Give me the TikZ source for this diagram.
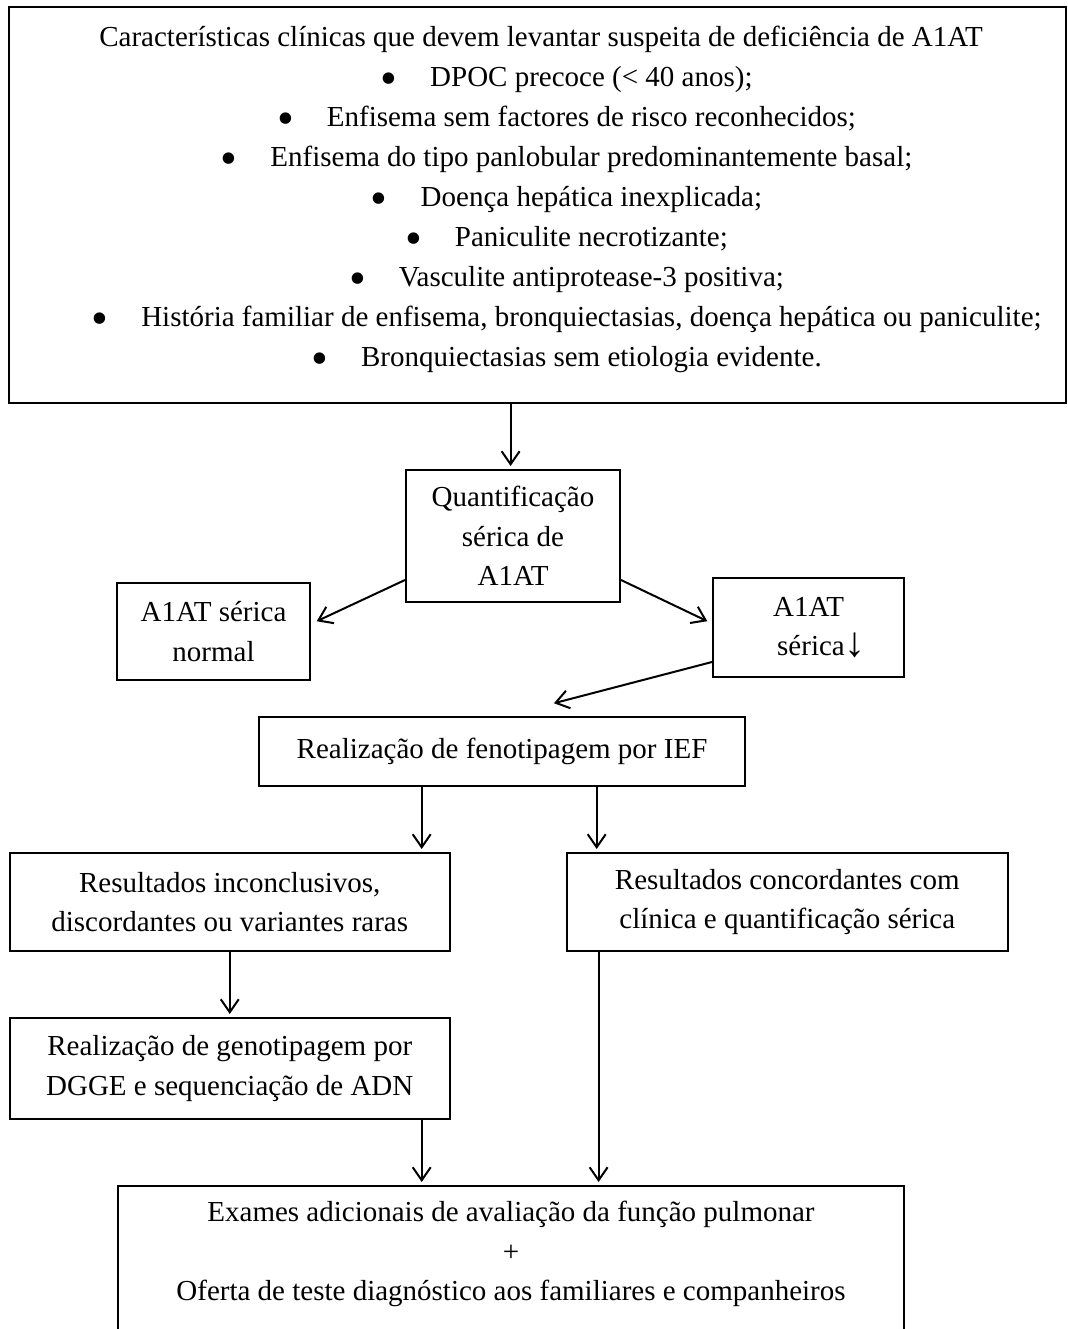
\documentclass[tikz,border=0pt]{standalone}
\usepackage{fontspec}
\setmainfont{Liberation Serif}
\usetikzlibrary{arrows.meta}
\newcommand{\mybul}{\hspace*{51pt}{\fontsize{48pt}{0pt}\selectfont\raisebox{-8pt}{•}}\hspace{33pt}}
\tikzset{
  box/.style={draw, line width=2pt, rectangle, inner sep=0pt, align=center,
    font=\fontsize{29pt}{39.5pt}\selectfont},
  txt/.style={inner sep=0pt, align=center, font=\fontsize{29pt}{39.5pt}\selectfont},
  arr/.style={line width=2pt, -{Straight Barb[length=13pt,width=18pt,line width=2pt]}, shorten >=3pt}
}
\begin{document}
\begin{tikzpicture}[x=1pt,y=-1pt]
\useasboundingbox (0,0) rectangle (1067,1329);
\clip (0,0) rectangle (1067,1329);
% top box
\node[box, minimum width=1057pt, minimum height=396pt] (top) at (537.5,205) {};
\node[txt, font=\fontsize{29pt}{40pt}\selectfont] (toptext) at (541,200.5) {%
Características clínicas que devem levantar suspeita de deficiência de A1AT\\
\mybul DPOC precoce (< 40 anos);\\
\mybul Enfisema sem factores de risco reconhecidos;\\
\mybul Enfisema do tipo panlobular predominantemente basal;\\
\mybul Doença hepática inexplicada;\\
\mybul Paniculite necrotizante;\\
\mybul Vasculite antiprotease-3 positiva;\\
\mybul História familiar de enfisema, bronquiectasias, doença hepática ou paniculite;\\
\mybul Bronquiectasias sem etiologia evidente.};
% middle boxes
\node[box, minimum width=214pt, minimum height=132pt] (quant) at (513,536) {Quantificação\\sérica de\\A1AT};
\node[box, minimum width=193pt, minimum height=97pt] (normal) at (213.5,631.5) {A1AT sérica\\normal};
\node[box, minimum width=191pt, minimum height=99pt] (low) at (808.5,627.5) {A1AT\\\hspace*{26pt}sérica{\fontsize{42pt}{0pt}\selectfont\raisebox{-1pt}{↓}}};
\node[box, minimum width=486pt, minimum height=69pt] (fen) at (502,751.5) {Realização de fenotipagem por IEF};
\node[box, minimum width=440.5pt, minimum height=98pt] (inconc) at (229.75,902) {Resultados inconclusivos,\\discordantes ou variantes raras};
\node[box, minimum width=440.5pt, minimum height=98pt] (concord) at (787.25,902) {Resultados concordantes com\\clínica e quantificação sérica};
\node[box, minimum width=440.5pt, minimum height=101pt] (geno) at (229.75,1068.5) {Realização de genotipagem por\\DGGE e sequenciação de ADN};
\node[box, minimum width=786.3pt, minimum height=214pt] (final) at (510.85,1293) {};
\node[txt] (finaltext) at (511,1254) {Exames adicionais de avaliação da função pulmonar\\+\\Oferta de teste diagnóstico aos familiares e companheiros};
% connectors
\coordinate (a0) at (510.6,0);
\coordinate (b1) at (421.7,0);
\coordinate (b2) at (596.7,0);
\coordinate (b3) at (598.6,0);
\draw[arr] (a0 |- top.south) -- (a0 |- quant.north);
\draw[arr] ([yshift=23pt]quant.south west) -- ([xshift=3pt,yshift=9pt]normal.east);
\draw[arr] ([yshift=23pt]quant.south east) -- ([xshift=-2pt,yshift=5pt]low.west);
\draw[arr] ([yshift=16pt]low.south west) -- ([xshift=49pt,yshift=12pt]fen.north);
\draw[arr] (b1 |- fen.south) -- (b1 |- inconc.north);
\draw[arr] (b2 |- fen.south) -- (b2 |- concord.north);
\draw[arr] (inconc.south) -- (geno.north);
\draw[arr] (b1 |- geno.south) -- (b1 |- final.north);
\draw[arr] (b3 |- concord.south) -- (b3 |- final.north);
\end{tikzpicture}
\end{document}
